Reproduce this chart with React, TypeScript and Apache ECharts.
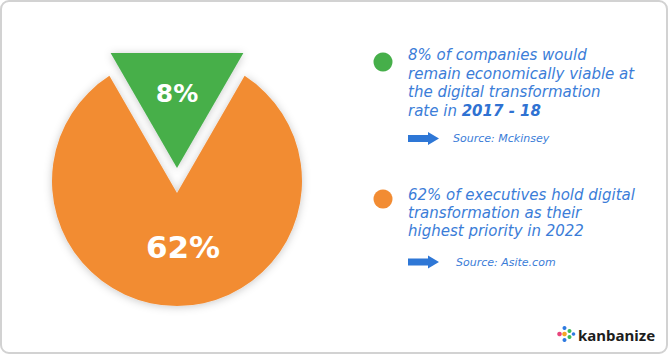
import React, { useEffect, useRef } from "react";
import * as echarts from "echarts";

const sliceLabels = ["8%", "62%"];
const sliceValues = [8, 62];
const sliceColors = ["#46AF4A", "#F28C33"];
const descriptions = [
  ["8% of companies would", "remain economically viable at", "the digital transformation", "rate in {b|2017 - 18}"],
  ["62% of executives hold digital", "transformation as their", "highest priority in 2022"],
];
const sources = ["Source: Mckinsey", "Source: Asite.com"];

const CX = 177, CY = 181, R = 125, HALF = Math.PI / 6;
const BLUE = "#3B7DD8";

function renderSlice(params: any, api: any) {
  const i = params.dataIndex;
  const label = sliceLabels[i];
  const shadow = { shadowBlur: 8, shadowColor: "rgba(0,0,0,0.22)", shadowOffsetY: 1 };
  if (i === 0) {
    const apexY = CY - 13;
    const topY = 53;
    const w = Math.tan(HALF) * (apexY - topY);
    return {
      type: "group",
      children: [
        {
          type: "polygon",
          shape: { points: [[CX - w, topY], [CX + w, topY], [CX, apexY]] },
          style: { fill: sliceColors[0], ...shadow },
        },
        {
          type: "text",
          x: CX,
          y: 93,
          style: { text: label, fill: "#fff", font: "bold 25px 'DejaVu Sans'", align: "center", verticalAlign: "middle" },
        },
      ],
    };
  }
  const ay = CY + 12;
  const s = Math.sin(HALF), c = Math.cos(HALF);
  const d = ay - CY;
  const t = (2 * d * c + Math.sqrt(4 * d * d * c * c - 4 * (d * d - R * R))) / 2;
  const px = t * s, py = ay - t * c;
  const pathData = `M ${CX} ${ay} L ${CX + px} ${py} A ${R} ${R} 0 1 1 ${CX - px} ${py} Z`;
  return {
    type: "group",
    children: [
      { type: "path", shape: { pathData }, style: { fill: sliceColors[1], ...shadow } },
      {
        type: "text",
        x: 183,
        y: 247,
        style: { text: label, fill: "#fff", font: "bold 31px 'DejaVu Sans'", align: "center", verticalAlign: "middle" },
      },
    ],
  };
}

function arrow(x: number, y: number) {
  return {
    type: "polygon",
    shape: {
      points: [[x, y - 3.5], [x + 20, y - 3.5], [x + 20, y - 6.5], [x + 31, y], [x + 20, y + 6.5], [x + 20, y + 3.5], [x, y + 3.5]],
    },
    style: { fill: "#2E77D6" },
  };
}

export default function App() {
  const ref = useRef<HTMLDivElement>(null);
  useEffect(() => {
    document.body.style.margin = "0";
    const chart = echarts.init(ref.current!, null, { renderer: "svg" });
    const textFont = "italic 15px 'DejaVu Sans'";
    const srcFont = "italic 11px 'DejaVu Sans'";
    const graphics: any[] = [
      {
        type: "rect",
        shape: { x: 1, y: 1, width: 666, height: 352, r: 8 },
        style: { fill: "none", stroke: "#d2d2d2", lineWidth: 2 },
        silent: true,
      },
      { type: "circle", shape: { cx: 383, cy: 62, r: 9.5 }, style: { fill: sliceColors[0] } },
      { type: "circle", shape: { cx: 383, cy: 199, r: 9.5 }, style: { fill: sliceColors[1] } },
      arrow(408, 138.5),
      arrow(408, 262),
      { type: "text", x: 453, y: 138.5, style: { text: sources[0], fill: BLUE, font: srcFont, verticalAlign: "middle" } },
      { type: "text", x: 456, y: 262, style: { text: sources[1], fill: BLUE, font: srcFont, verticalAlign: "middle" } },
      { type: "circle", shape: { cx: 559.5, cy: 334, r: 2.3 }, style: { fill: "#E8457C" } },
      { type: "circle", shape: { cx: 564.5, cy: 328, r: 2 }, style: { fill: "#2F7BE0" } },
      { type: "circle", shape: { cx: 564.5, cy: 334, r: 2.3 }, style: { fill: "#F5A623" } },
      { type: "circle", shape: { cx: 564.5, cy: 340, r: 2 }, style: { fill: "#2F7BE0" } },
      { type: "circle", shape: { cx: 569.5, cy: 331, r: 2 }, style: { fill: "#3DBB5B" } },
      { type: "circle", shape: { cx: 569.5, cy: 337, r: 2 }, style: { fill: "#3DBB5B" } },
      { type: "circle", shape: { cx: 573.5, cy: 334, r: 1.8 }, style: { fill: "#2F7BE0" } },
      { type: "text", x: 578, y: 335, style: { text: "kanbanize", fill: "#1d1d1d", font: "bold 15px 'Noto Sans'", verticalAlign: "middle" } },
    ];
    const ys1 = [55, 73.5, 92, 110.5];
    descriptions[0].forEach((line, k) => {
      graphics.push({
        type: "text",
        x: 408,
        y: ys1[k],
        style: {
          text: line,
          fill: BLUE,
          font: textFont,
          verticalAlign: "middle",
          rich: { b: { font: "italic bold 15px 'DejaVu Sans'", fill: "#2F72D2" } },
        },
      });
    });
    const ys2 = [195, 213, 231];
    descriptions[1].forEach((line, k) => {
      graphics.push({
        type: "text",
        x: 408,
        y: ys2[k],
        style: { text: line, fill: BLUE, font: textFont, verticalAlign: "middle" },
      });
    });
    chart.setOption({
      animation: false,
      backgroundColor: "#ffffff",
      series: [
        {
          type: "custom",
          coordinateSystem: "none",
          renderItem: renderSlice,
          data: sliceValues.map((v, i) => ({ value: v, name: sliceLabels[i] })),
        },
      ],
      graphic: graphics,
    });
    return () => chart.dispose();
  }, []);
  return <div ref={ref} style={{ width: 669, height: 355 }} />;
}
